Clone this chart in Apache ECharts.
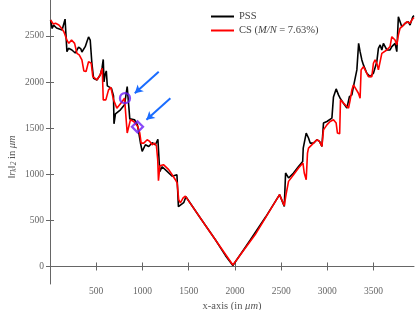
<!DOCTYPE html>
<html>
<head>
<meta charset="utf-8">
<script src="https://cdn.jsdelivr.net/npm/echarts@6/dist/echarts.min.js"></script>
<style>html,body{margin:0;padding:0;background:#fff}#c{width:415px;height:310px}</style>
</head>
<body>
<div id="c"></div>
<script>
// PSS (black) : [x in um, ||r_k||_2 in um]
const pssX = [6,23,39,71,131,152,163,174,183,201,237,273,309,334,345,381,399,417,435,453,471,507,543,563,576,584,595,609,620,638,665,687,692,708,762,806,835,863,881,914,946,962,978,997,1032,1068,1105,1140,1167,1187,1213,1267,1321,1373,1389,1410,1446,1470,1626,1789,1897,1978,2170,2332,2483,2534,2548,2569,2580,2634,2688,2733,2739,2760,2771,2796,2814,2833,2850,2887,2915,2941,2952,2958,2995,3049,3058,3066,3095,3120,3138,3174,3211,3230,3239,3265,3282,3300,3319,3338,3354,3373,3390,3427,3462,3498,3535,3552,3571,3589,3606,3643,3678,3697,3732,3751,3768,3786,3805,3841,3876,3894,3924,3937];
const pssY = [2673,2581,2618,2586,2564,2554,2683,2678,2330,2366,2348,2315,2380,2359,2326,2384,2438,2489,2456,2204,2042,2023,2077,2153,2245,2002,2077,2121,1958,1942,1931,1850,1547,1655,1699,1753,1951,1601,1580,1591,1536,1515,1342,1248,1320,1302,1342,1320,1380,1028,1082,1031,979,995,649,660,692,757,525,290,120,11,292,536,779,652,1014,995,960,1014,1085,1139,1284,1295,1447,1393,1338,1320,1338,1374,1356,1302,1284,1555,1572,1609,1612,1839,1926,1861,1825,1771,1717,1699,1843,1861,1951,1969,2132,2420,2330,2240,2186,2096,2059,2096,2221,2366,2402,2348,2420,2348,2348,2384,2420,2330,2708,2708,2600,2637,2654,2618,2708,2720];
// CS (red)
const csX = [6,36,60,96,133,150,185,204,233,266,291,316,345,366,390,417,446,463,509,543,565,576,604,633,658,687,723,744,781,806,827,835,852,870,889,906,924,949,971,986,1014,1051,1079,1105,1130,1151,1165,1173,1189,1227,1284,1321,1356,1375,1392,1410,1440,1464,1734,1978,2220,2483,2534,2556,2580,2634,2688,2736,2750,2771,2785,2796,2814,2850,2887,2915,2941,2958,2995,3030,3066,3095,3109,3133,3142,3157,3193,3229,3247,3265,3282,3300,3336,3354,3365,3390,3408,3444,3462,3481,3498,3516,3535,3552,3571,3589,3606,3643,3678,3697,3715,3732,3751,3768,3786,3822,3858,3894,3913,3937];
const csY = [2673,2629,2637,2618,2572,2546,2451,2420,2456,2420,2312,2294,2240,2121,2115,2222,2204,2059,2023,2077,2150,1807,1807,1915,1942,1807,1717,1720,1789,1825,1843,1447,1456,1591,1609,1572,1555,1518,1447,1338,1338,1374,1356,1320,1338,1309,1158,931,1093,1104,1050,995,941,906,725,689,743,763,368,16,346,779,660,797,923,995,1068,1122,1014,941,1230,1284,1302,1338,1374,1356,1302,1482,1536,1572,1591,1555,1447,1439,1807,1807,1753,1717,1807,1915,1969,1951,1879,1825,2132,2167,2150,2059,2042,2059,2204,2240,2204,2132,2113,2312,2330,2348,2384,2492,2510,2456,2402,2510,2583,2618,2654,2637,2673,2700];
// highlighted points
const circlePt = [811, 1825];
const diamondPt = [946, 1515];
// arrows: [startX, startY, endX, endY]
const arrow1 = [1176, 2113, 917, 1879];
const arrow2 = [1302, 1825, 1043, 1591];
// ticks
const xTicks = [500, 1000, 1500, 2000, 2500, 3000, 3500];
const yTicks = [0, 500, 1000, 1500, 2000, 2500];
const xMin = 0, xMax = 3937, yMin = -190, yMax = 2890;

const zip = (a, b) => a.map((v, i) => [v, b[i]]);
const FONT = 'Liberation Serif';
const axisCol = '#666';
const purple = '#6a1cf5';
const blue = '#1a6cff';

const chart = echarts.init(document.getElementById('c'), null, {renderer: 'canvas'});
const tickCommon = {show: true, inside: true, length: 4, lineStyle: {color: axisCol, width: 1}};
chart.setOption({
  animation: false,
  backgroundColor: '#fff',
  grid: {left: 50, right: 1, top: 0, bottom: 26, containLabel: false, outerBoundsMode: 'none'},
  legend: {
    data: ['PSS', 'CS (M/N = 7.63%)'],
    orient: 'vertical', left: 206, top: 6, itemGap: 3,
    icon: 'rect', itemWidth: 23, itemHeight: 2,
    selectedMode: false,
    textStyle: {fontFamily: FONT, fontSize: 10.5, color: '#444',
      rich: {r: {fontFamily: FONT, fontSize: 10.5, color: '#444'},
             i: {fontFamily: FONT, fontSize: 10.5, color: '#444', fontStyle: 'italic'}}},
    formatter: n => n === 'PSS' ? '{r|PSS}' : '{r|CS (}{i|M/N}{r| = 7.63%)}'
  },
  xAxis: [{
    type: 'value', min: xMin, max: xMax, position: 'bottom',
    name: 'x-axis (in {i|μm})', nameLocation: 'middle', nameGap: 12,
    nameTextStyle: {fontFamily: FONT, fontSize: 10.5, color: '#555',
      rich: {i: {fontFamily: FONT, fontSize: 10.5, color: '#555', fontStyle: 'italic'}}},
    axisLine: {show: true, lineStyle: {color: axisCol, width: 1}},
    axisTick: Object.assign({customValues: xTicks}, tickCommon),
    axisLabel: {customValues: xTicks, formatter: v => String(v), fontFamily: FONT, fontSize: 9.5, color: '#666', margin: 2},
    splitLine: {show: false}
  }, {
    type: 'value', min: xMin, max: xMax, position: 'top',
    axisLine: {show: false},
    axisTick: Object.assign({customValues: xTicks}, tickCommon),
    axisLabel: {show: false}, splitLine: {show: false}
  }],
  yAxis: [{
    type: 'value', min: yMin, max: yMax, position: 'left',
    axisLine: {show: true, lineStyle: {color: axisCol, width: 1}},
    axisTick: Object.assign({customValues: yTicks}, tickCommon),
    axisLabel: {customValues: yTicks, formatter: v => String(v), fontFamily: FONT, fontSize: 9.5, color: '#666', margin: 6},
    splitLine: {show: false}
  }, {
    type: 'value', min: yMin, max: yMax, position: 'right',
    axisLine: {show: false},
    axisTick: Object.assign({customValues: yTicks}, tickCommon),
    axisLabel: {show: false}, splitLine: {show: false}
  }],
  graphic: [{
    type: 'text', x: 12, y: 157, rotation: Math.PI / 2,
    style: {
      text: '{n|‖}{i|r}{s|k}{n|‖}{s|2}{n| in }{i|μm}',
      align: 'center', verticalAlign: 'middle',
      rich: {
        n: {fontFamily: FONT, fontSize: 10.5, fill: '#555'},
        i: {fontFamily: FONT, fontSize: 10.5, fill: '#555', fontStyle: 'italic'},
        s: {fontFamily: FONT, fontSize: 7.5, fill: '#555', fontStyle: 'italic', padding: [4, 0, 0, 0]}
      }
    }
  }],
  series: [{
    name: 'PSS', type: 'line', data: zip(pssX, pssY), showSymbol: false, symbol: 'none',
    lineStyle: {color: '#000', width: 1.6}, itemStyle: {color: '#000'}, z: 2
  }, {
    name: 'CS (M/N = 7.63%)', type: 'line', data: zip(csX, csY), showSymbol: false, symbol: 'none',
    lineStyle: {color: '#ff0000', width: 1.6}, itemStyle: {color: '#ff0000'}, z: 3
  }, {
    name: 'circle', type: 'scatter', data: [circlePt], symbol: 'circle', symbolSize: 10,
    itemStyle: {color: 'rgba(0,0,0,0)', borderColor: purple, borderWidth: 2.3}, z: 5,
    markLine: {
      silent: true, symbol: ['none', 'arrow'], symbolSize: [7, 8],
      label: {show: false}, lineStyle: {color: blue, width: 2, type: 'solid'},
      data: [[{coord: [arrow1[0], arrow1[1]]}, {coord: [arrow1[2], arrow1[3]]}],
             [{coord: [arrow2[0], arrow2[1]]}, {coord: [arrow2[2], arrow2[3]]}]]
    }
  }, {
    name: 'diamond', type: 'scatter', data: [diamondPt], symbol: 'diamond', symbolSize: 11,
    itemStyle: {color: 'rgba(0,0,0,0)', borderColor: purple, borderWidth: 2.3}, z: 5
  }]
});
</script>
</body>
</html>
